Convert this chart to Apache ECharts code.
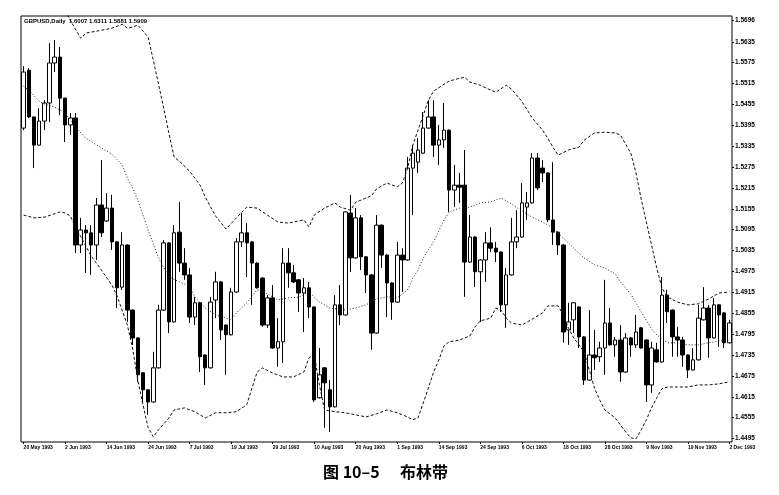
<!DOCTYPE html>
<html><head><meta charset="utf-8">
<script src="https://cdn.jsdelivr.net/npm/echarts@6/dist/echarts.min.js"></script>
<style>html,body{margin:0;padding:0;background:#fff}#c{width:779px;height:495px}</style>
</head><body><div id="c"></div>
<script>
// trading days shown on the chart
const mayDays=[20,21,24,25,26,27,28];
const junDays=[1,2,3,4,7,8,9,10,11,14,15,16,17,18,21,22,23,24,25,28,29,30];
const julDays=[1,2,6,7,8,9,12,13,14,15,16,19,20,21,22,23,26,27,28,29,30];
const augDays=[2,3,4,5,6,9,10,11,12,13,16,17,18,19,20,23,24,25,26,27,30,31];
const sepDays=[1,2,3,7,8,9,10,13,14,15,16,17,20,21,22,23,24,27,28,29,30];
const octDays=[1,4,5,6,7,8,11,12,13,14,15,18,19,20,21,22,25,26,27,28,29];
const novDays=[1,2,3,4,5,8,9,10,11,12,15,16,17,18,19,22,23,24,26,29,30];
const decDays=[1,2];
const monthList=[['May',mayDays],['Jun',junDays],['Jul',julDays],['Aug',augDays],['Sep',sepDays],['Oct',octDays],['Nov',novDays],['Dec',decDays]];
const categories=[];
monthList.forEach(([m,ds])=>ds.forEach(d=>categories.push(d+' '+m+' 1993')));

const open=[
1.5387,1.5553,1.5419,1.5338,1.5407,1.5459,1.5574,1.5591,1.5473,1.5396,
1.5416,1.5051,1.5094,1.5086,1.5051,1.5166,1.5120,1.5157,1.5060,1.4930,
1.5051,1.4864,1.4784,1.4684,1.4635,1.4600,1.4698,1.4864,1.5057,1.4830,
1.5088,1.4999,1.4965,1.4844,1.4885,1.4735,1.4698,1.4893,1.4945,1.4821,
1.4793,1.4916,1.5060,1.5086,1.5060,1.4999,1.4956,1.4821,1.4899,1.4755,
1.4773,1.4999,1.4971,1.4951,1.4913,1.4928,1.4873,1.4612,1.4698,1.4635,
1.4586,1.4879,1.4850,1.5143,1.5014,1.5129,1.5017,1.4965,1.4798,1.5108,
1.5022,1.4942,1.4887,1.5022,1.5008,1.5272,1.5289,1.5315,1.5387,1.5419,
1.5338,1.5353,1.5381,1.5209,1.5223,1.5223,1.5002,1.5074,1.4974,1.5008,
1.5057,1.5042,1.5031,1.4879,1.4965,1.5060,1.5074,1.5160,1.5172,1.5301,
1.5272,1.5258,1.5123,1.5088,1.5051,1.4807,1.4836,1.4873,1.4787,1.4663,
1.4735,1.4730,1.4755,1.4827,1.4764,1.4778,1.4686,1.4784,1.4764,1.4813,
1.4778,1.4649,1.4750,1.4715,1.4907,1.4864,1.4787,1.4778,1.4735,1.4692,
1.4721,1.4836,1.4870,1.4784,1.4879,1.4856,1.4770];
const high=[
1.5565,1.5559,1.5420,1.5444,1.5467,1.5631,1.5640,1.5620,1.5474,1.5430,
1.5430,1.5129,1.5108,1.5108,1.5186,1.5295,1.5200,1.5195,1.5062,1.5088,
1.5053,1.4866,1.4786,1.4686,1.4637,1.4744,1.4879,1.5065,1.5059,1.5108,
1.5175,1.5042,1.4985,1.4902,1.4887,1.4737,1.4902,1.4974,1.4947,1.4823,
1.4928,1.5071,1.5143,1.5114,1.5062,1.5001,1.4958,1.4907,1.4936,1.4841,
1.5042,1.5042,1.4994,1.4953,1.4956,1.4945,1.4875,1.4755,1.4700,1.4663,
1.4907,1.4936,1.5148,1.5195,1.5157,1.5137,1.5019,1.4967,1.5137,1.5110,
1.5024,1.4944,1.5060,1.5042,1.5304,1.5338,1.5358,1.5433,1.5467,1.5467,
1.5396,1.5459,1.5383,1.5281,1.5258,1.5324,1.5137,1.5076,1.5010,1.5088,
1.5102,1.5060,1.5033,1.4985,1.5129,1.5151,1.5229,1.5203,1.5315,1.5315,
1.5295,1.5260,1.5289,1.5090,1.5053,1.4885,1.4887,1.4875,1.4789,1.4864,
1.4807,1.4773,1.4951,1.4870,1.4787,1.4821,1.4798,1.4787,1.4850,1.4816,
1.4780,1.4773,1.4770,1.4959,1.4922,1.4866,1.4816,1.4787,1.4737,1.4755,
1.4879,1.4930,1.4879,1.4899,1.4881,1.4858,1.4836];
const low=[
1.5381,1.5416,1.5272,1.5337,1.5381,1.5404,1.5548,1.5424,1.5347,1.5367,
1.5028,1.5028,1.4971,1.4965,1.5008,1.5074,1.5117,1.5037,1.4870,1.4922,
1.4830,1.4764,1.4658,1.4597,1.4563,1.4598,1.4696,1.4862,1.4798,1.4828,
1.4974,1.4951,1.4827,1.4821,1.4686,1.4649,1.4696,1.4841,1.4778,1.4678,
1.4791,1.4914,1.5045,1.4959,1.4879,1.4926,1.4816,1.4813,1.4753,1.4701,
1.4712,1.4928,1.4942,1.4859,1.4801,1.4841,1.4600,1.4610,1.4526,1.4514,
1.4584,1.4821,1.4848,1.4974,1.5012,1.4979,1.4913,1.4750,1.4796,1.4985,
1.4844,1.4836,1.4885,1.4916,1.5006,1.5137,1.5258,1.5313,1.5385,1.5304,
1.5281,1.5330,1.5146,1.5160,1.5172,1.4902,1.5000,1.4930,1.4830,1.4945,
1.5031,1.5002,1.4859,1.4813,1.4963,1.5042,1.5072,1.5123,1.5170,1.5209,
1.5232,1.5117,1.5051,1.5022,1.4770,1.4764,1.4798,1.4755,1.4649,1.4661,
1.4692,1.4715,1.4678,1.4762,1.4730,1.4658,1.4684,1.4730,1.4755,1.4753,
1.4600,1.4626,1.4713,1.4713,1.4827,1.4730,1.4730,1.4701,1.4669,1.4690,
1.4719,1.4834,1.4727,1.4782,1.4758,1.4755,1.4768];
const close=[
1.5548,1.5419,1.5338,1.5407,1.5459,1.5574,1.5591,1.5473,1.5396,1.5416,
1.5051,1.5094,1.5086,1.5051,1.5166,1.5086,1.5157,1.5060,1.4928,1.5051,
1.4864,1.4784,1.4678,1.4635,1.4600,1.4698,1.4864,1.5057,1.4830,1.5086,
1.4999,1.4965,1.4844,1.4885,1.4730,1.4698,1.4887,1.4945,1.4807,1.4793,
1.4916,1.5060,1.5086,1.5057,1.4999,1.4928,1.4821,1.4899,1.4755,1.4773,
1.4999,1.4971,1.4945,1.4913,1.4928,1.4873,1.4606,1.4678,1.4655,1.4586,
1.4879,1.4850,1.5146,1.5014,1.5129,1.5017,1.4965,1.4798,1.5108,1.5022,
1.4942,1.4887,1.5022,1.5008,1.5272,1.5315,1.5324,1.5387,1.5419,1.5338,
1.5353,1.5381,1.5209,1.5223,1.5217,1.5002,1.5074,1.4974,1.5008,1.5057,
1.5042,1.5031,1.4879,1.4965,1.5060,1.5074,1.5172,1.5172,1.5301,1.5215,
1.5258,1.5123,1.5088,1.5051,1.4801,1.4830,1.4885,1.4787,1.4663,1.4735,
1.4727,1.4755,1.4827,1.4764,1.4778,1.4686,1.4784,1.4764,1.4801,1.4755,
1.4649,1.4755,1.4715,1.4907,1.4859,1.4787,1.4778,1.4735,1.4692,1.4721,
1.4841,1.4870,1.4784,1.4879,1.4850,1.4770,1.4827];

// Bollinger bands: [bar index, value]
const upperBand=[[8,1.5725],[9,1.5697],[11,1.5645],[12,1.5660],[15,1.5668],[17,1.5674],[19,1.5685],[20,1.5674],[21,1.5677],[22,1.5683],[24,1.5648],[25,1.5582],[26,1.5513],[27,1.5444],[28,1.5372],[29,1.5304],[30,1.5292],[32,1.5263],[34,1.5223],[35,1.5189],[37,1.5134],[39,1.5097],[41,1.5129],[43,1.5160],[45,1.5157],[47,1.5137],[49,1.5117],[51,1.5114],[54,1.5123],[55,1.5103],[56,1.5137],[58,1.5157],[60,1.5172],[61,1.5160],[63,1.5151],[64,1.5174],[66,1.5186],[67,1.5192],[68,1.5212],[70,1.5229],[72,1.5218],[73,1.5229],[74,1.5272],[75,1.5338],[77,1.5424],[78,1.5467],[79,1.5493],[81,1.5513],[82,1.5522],[84,1.5530],[85,1.5533],[86,1.5519],[88,1.5510],[90,1.5496],[91,1.5490],[93,1.5510],[94,1.5499],[96,1.5464],[98,1.5416],[100,1.5381],[101,1.5358],[102,1.5332],[103,1.5309],[105,1.5324],[107,1.5332],[108,1.5352],[110,1.5373],[112,1.5375],[114,1.5373],[115,1.5367],[117,1.5315],[118,1.5258],[119,1.5183],[120,1.5117],[121,1.5051],[122,1.4985],[123,1.4928],[124,1.4902],[126,1.4887],[128,1.4879],[130,1.4882],[132,1.4896],[134,1.4913],[136,1.4916]];
const middleBand=[[0,1.5507],[1,1.5496],[3,1.5464],[4,1.5456],[6,1.5447],[8,1.5430],[10,1.5390],[12,1.5358],[15,1.5330],[17,1.5312],[19,1.5281],[20,1.5243],[21,1.5215],[22,1.5180],[24,1.5094],[25,1.5054],[26,1.5014],[28,1.4959],[30,1.4945],[32,1.4933],[33,1.4902],[35,1.4870],[37,1.4850],[39,1.4841],[40,1.4836],[41,1.4856],[43,1.4885],[45,1.4922],[46,1.4919],[49,1.4893],[51,1.4899],[53,1.4901],[55,1.4916],[57,1.4887],[59,1.4870],[62,1.4864],[64,1.4870],[66,1.4879],[68,1.4896],[70,1.4902],[72,1.4899],[74,1.4922],[75,1.4956],[76,1.4979],[77,1.5014],[79,1.5060],[81,1.5123],[82,1.5146],[84,1.5157],[86,1.5160],[88,1.5172],[90,1.5175],[92,1.5186],[94,1.5169],[96,1.5149],[98,1.5131],[100,1.5117],[102,1.5100],[104,1.5071],[106,1.5042],[108,1.5014],[110,1.4994],[112,1.4985],[114,1.4968],[115,1.4945],[117,1.4910],[119,1.4859],[121,1.4810],[122,1.4793],[124,1.4770],[126,1.4770],[128,1.4764],[130,1.4764],[132,1.4770],[134,1.4775],[136,1.4778]];
const lowerBand=[[0,1.5137],[2,1.5129],[4,1.5131],[7,1.5146],[8,1.5143],[9,1.5134],[10,1.5103],[12,1.5048],[13,1.5020],[15,1.4979],[17,1.4936],[18,1.4905],[20,1.4821],[21,1.4755],[22,1.4663],[23,1.4592],[24,1.4526],[25,1.4500],[26,1.4520],[27,1.4537],[28,1.4554],[29,1.4577],[31,1.4583],[33,1.4572],[35,1.4554],[37,1.4569],[39,1.4569],[41,1.4572],[43,1.4592],[44,1.4640],[45,1.4686],[46,1.4698],[48,1.4683],[50,1.4672],[52,1.4672],[54,1.4686],[55,1.4727],[56,1.4735],[57,1.4649],[58,1.4577],[60,1.4572],[62,1.4569],[64,1.4563],[66,1.4557],[68,1.4566],[70,1.4577],[72,1.4569],[74,1.4557],[75,1.4549],[76,1.4554],[77,1.4597],[78,1.4640],[79,1.4686],[80,1.4720],[81,1.4761],[82,1.4773],[84,1.4778],[86,1.4790],[87,1.4816],[88,1.4833],[90,1.4841],[91,1.4870],[92,1.4864],[93,1.4841],[94,1.4827],[96,1.4821],[98,1.4838],[100,1.4856],[101,1.4876],[103,1.4876],[104,1.4850],[105,1.4812],[106,1.4784],[107,1.4764],[108,1.4744],[109,1.4692],[110,1.4640],[111,1.4606],[112,1.4577],[114,1.4554],[116,1.4514],[117,1.4497],[118,1.4494],[119,1.4520],[120,1.4549],[121,1.4583],[122,1.4612],[123,1.4638],[124,1.4643],[126,1.4643],[128,1.4643],[130,1.4649],[132,1.4649],[134,1.4652],[136,1.4658]];

const yTickLabels=['1.4495','1.4555','1.4615','1.4675','1.4735','1.4795','1.4855','1.4915','1.4975','1.5035','1.5095','1.5155','1.5215','1.5275','1.5335','1.5395','1.5455','1.5515','1.5575','1.5635','1.5696'];
const headerText='GBPUSD,Daily  1.6007 1.6311 1.5881 1.5909';
const captionFig='图 10–5';
const captionName='布林带';

const yTickVals=yTickLabels.map(Number);
const candleData=open.map((o,i)=>[o,close[i],low[i],high[i]]);

const chart=echarts.init(document.getElementById('c'),null,{renderer:'canvas'});
const bandStyle={color:'#111',width:1,type:[3,2]};
chart.setOption({
  animation:false,
  backgroundColor:'#fff',
  grid:{left:21,right:47,top:16,bottom:53,show:true,borderColor:'#000',borderWidth:1,backgroundColor:'#fff'},
  xAxis:{type:'category',data:categories,boundaryGap:true,
    axisLine:{show:false},
    axisTick:{show:true,interval:7,alignWithLabel:true,length:2,lineStyle:{color:'#000'}},
    axisLabel:{interval:7,align:'left',fontSize:5,fontWeight:'bold',margin:3,color:'#000',fontFamily:'Liberation Sans'},
    splitLine:{show:false}},
  yAxis:{type:'value',position:'right',min:1.4485,max:1.5709,
    axisLine:{show:false},splitLine:{show:false},
    axisTick:{show:true,customValues:yTickVals,length:2,lineStyle:{color:'#000'}},
    axisLabel:{customValues:yTickVals,margin:3,fontSize:6.5,fontWeight:'bold',color:'#000',fontFamily:'Liberation Sans',
      formatter:v=>{let b=0;for(let k=1;k<yTickVals.length;k++){if(Math.abs(yTickVals[k]-v)<Math.abs(yTickVals[b]-v))b=k;}return yTickLabels[b];}}},
  graphic:[
    {type:'text',left:24,top:18,style:{text:headerText,fontSize:6,fontWeight:'bold',fill:'#000',fontFamily:'Liberation Sans'}},
    {type:'text',left:323,top:464,style:{text:captionFig,fontSize:16,fontWeight:'bold',fill:'#000',fontFamily:'Noto Sans CJK SC'}},
    {type:'text',left:400,top:464,style:{text:captionName,fontSize:16,fontWeight:'bold',fill:'#000',fontFamily:'Noto Sans CJK SC'}}
  ],
  series:[
    {type:'candlestick',data:candleData,barWidth:4,
      itemStyle:{color:'#fff',color0:'#000',borderColor:'#000',borderColor0:'#000',borderColorDoji:'#000',borderWidth:1}},
    {type:'line',data:upperBand,symbol:'none',clip:true,lineStyle:bandStyle,z:3},
    {type:'line',data:middleBand,symbol:'none',clip:true,lineStyle:{color:'#222',width:1,type:[1,2]},z:3},
    {type:'line',data:lowerBand,symbol:'none',clip:true,lineStyle:bandStyle,z:3}
  ]
});
</script></body></html>
